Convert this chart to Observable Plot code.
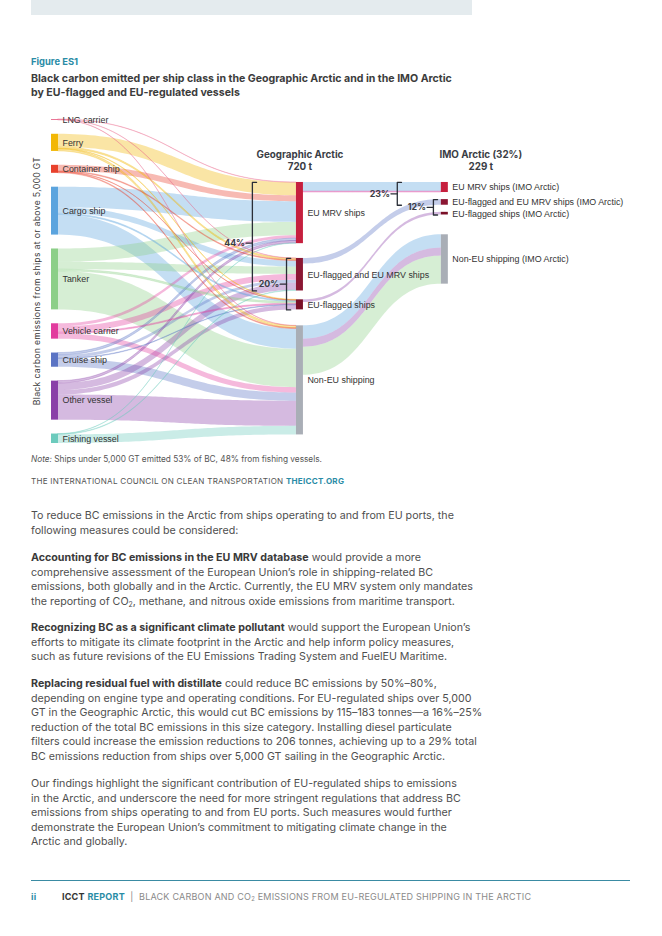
<!DOCTYPE html>
<html><head><meta charset="utf-8">
<script src="https://cdn.jsdelivr.net/npm/d3@7"></script>
<script src="https://cdn.jsdelivr.net/npm/@observablehq/plot@0.6"></script>
<style>
body{margin:0;background:#fff;}
#page{position:relative;width:662px;height:936px;overflow:hidden;font-family:Inter,"Open Sans",sans-serif;color:#4d4d4d;}
.abs{position:absolute;white-space:nowrap;}
#topbar{position:absolute;left:31px;top:0;width:441px;height:15px;background:#e4ebee;}
#fig{left:31px;top:56px;font-size:9.4px;font-weight:700;color:#2a8ca6;}
.title{left:31px;font-size:9.6px;font-weight:700;color:#3c3c3c;}
#chart{position:absolute;left:0;top:108px;}
#ytitle{position:absolute;left:37px;top:281px;transform:translate(-50%,-50%) rotate(-90deg);font-size:8.6px;color:#3a3a3a;white-space:nowrap;letter-spacing:0.35px;}
#note{left:31px;top:454px;font-size:7.4px;color:#555;}
#icct{left:31px;top:476px;font-size:7.3px;color:#555;letter-spacing:0.25px;}
#icct b{color:#2a8ca6;}
.para{position:absolute;left:31px;font-size:9.45px;line-height:14.6px;color:#4f4f4f;white-space:nowrap;}
.para b{color:#3a3a3a;}
sub{font-size:0.65em;vertical-align:-0.25em;line-height:0;}
#rule{position:absolute;left:31px;top:880px;width:599px;height:1px;background:#3a8ba3;}
#footer{left:31px;top:891px;font-size:7.6px;color:#8a8a8a;letter-spacing:0.2px;}
#footer .pg{color:#2a8ca6;font-weight:700;display:inline-block;width:31px;}
#footer .ic{color:#333;font-weight:700;}
#footer .rp{color:#2a8ca6;font-weight:700;}
</style></head><body><div id="page">
<div id="topbar"></div>
<div class="abs" id="fig">Figure ES1</div>
<div class="abs title" id="t1" style="top:72px">Black carbon emitted per ship class in the Geographic Arctic and in the IMO Arctic</div>
<div class="abs title" style="top:86px">by EU-flagged and EU-regulated vessels</div>
<div id="chart"></div>
<div id="ytitle">Black carbon emissions from ships at or above 5,000 GT</div>
<div class="abs" id="note"><i>Note:</i> Ships under 5,000 GT emitted 53% of BC, 48% from fishing vessels.</div>
<div class="abs" id="icct">THE INTERNATIONAL COUNCIL ON CLEAN TRANSPORTATION <b>THEICCT.ORG</b></div>
<div class="para" style="top:509px"><span id="p1">To reduce BC emissions in the Arctic from ships operating to and from EU ports, the</span><br>following measures could be considered:</div>
<div class="para" style="top:551px"><b>Accounting for BC emissions in the EU MRV database</b> would provide a more<br>comprehensive assessment of the European Union’s role in shipping-related BC<br>emissions, both globally and in the Arctic. Currently, the EU MRV system only mandates<br>the reporting of CO<sub>2</sub>, methane, and nitrous oxide emissions from maritime transport.</div>
<div class="para" style="top:621px"><b>Recognizing BC as a significant climate pollutant</b> would support the European Union’s<br>efforts to mitigate its climate footprint in the Arctic and help inform policy measures,<br>such as future revisions of the EU Emissions Trading System and FuelEU Maritime.</div>
<div class="para" style="top:677px"><b>Replacing residual fuel with distillate</b> could reduce BC emissions by 50%–80%,<br>depending on engine type and operating conditions. For EU-regulated ships over 5,000<br>GT in the Geographic Arctic, this would cut BC emissions by 115–183 tonnes—a 16%–25%<br>reduction of the total BC emissions in this size category. Installing diesel particulate<br>filters could increase the emission reductions to 206 tonnes, achieving up to a 29% total<br>BC emissions reduction from ships over 5,000 GT sailing in the Geographic Arctic.</div>
<div class="para" style="top:777px">Our findings highlight the significant contribution of EU-regulated ships to emissions<br>in the Arctic, and underscore the need for more stringent regulations that address BC<br>emissions from ships operating to and from EU ports. Such measures would further<br>demonstrate the European Union’s commitment to mitigating climate change in the<br>Arctic and globally.</div>
<div id="rule"></div>
<div class="abs" id="footer"><span class="pg">ii</span><span class="ic">ICCT</span> <span class="rp">REPORT</span> &nbsp;|&nbsp; BLACK CARBON AND CO<sub>2</sub> EMISSIONS FROM EU-REGULATED SHIPPING IN THE ARCTIC</div>
</div>
<script>
// ---------------- DATA (tonnes of black carbon) ----------------
const shipClasses = ["LNG carrier","Ferry","Container ship","Cargo ship","Tanker","Vehicle carrier","Cruise ship","Other vessel","Fishing vessel"];
const geoGroups = ["EU MRV ships","EU-flagged and EU MRV ships","EU-flagged ships","Non-EU shipping"];
const imoGroups = ["EU MRV ships (IMO Arctic)","EU-flagged and EU MRV ships (IMO Arctic)","EU-flagged ships (IMO Arctic)","Non-EU shipping (IMO Arctic)"];
// Geographic Arctic: ship class -> group
const bcToEuMrv     = [1, 44, 20, 70, 45, 10,  8,  8,  1];
const bcToEuFlagMrv = [1,  5,  3, 20, 25, 20, 10, 24,  2];
const bcToEuFlag    = [0,  2,  1,  4,  6,  4,  2, 15,  0];
const bcToNonEu     = [1,  7,  3, 68,130, 18, 28, 85, 29];
// IMO Arctic: group -> IMO group, by ship class
const imoFrom  = ["EU MRV ships","EU MRV ships","EU-flagged and EU MRV ships","EU-flagged ships","Non-EU shipping","Non-EU shipping","Non-EU shipping"];
const imoClass = ["Cargo ship","Vehicle carrier","Cruise ship","Other vessel","Cargo ship","Other vessel","Tanker"];
const imoBC    = [31, 3, 19, 9, 45, 27, 95];

// ---------------- STYLE / LAYOUT ----------------
const classColors = ["#e8668a","#f2b705","#e8412c","#5ba4de","#8ccf88","#e23c9e","#5b74c4","#8a40a8","#6ccbbd"];
const groupColors = ["#c61f3e","#8b1733","#7a1027","#a9aeb6"];
const X = [0, 0.617, 0.982], NW = 0.0176;
const PAD_L = 47, MID_TOP = 213, MID_PADS = [50, 30, 54], RIGHT_TOP = 213, RIGHT_PADS = [24, 24, 67];
const LABEL_FONT = "Liberation Sans, Arial, sans-serif";
const HEAD_FONT = "Inter, sans-serif";

const flows = [bcToEuMrv, bcToEuFlagMrv, bcToEuFlag, bcToNonEu];
const classTotals = shipClasses.map((c, i) => d3.sum(flows, f => f[i]));
const geoTotals = flows.map(f => d3.sum(f));
const imoTotals = geoGroups.map(g => d3.sum(imoBC.filter((v, k) => imoFrom[k] === g)));
const geoTotal = d3.sum(geoTotals), imoTotal = d3.sum(imoTotals);

function column(names, values, keys, stage, top, pads) {
  let y = top;
  return names.map((name, i) => {
    const n = {name, value: values[i], key: keys[i], x1: X[stage], x2: X[stage] + NW, y0: y, y1: y + values[i], out: y, inn: y};
    y += values[i] + (pads[i] || 0);
    return n;
  });
}
const leftN = column(shipClasses, classTotals, shipClasses, 0, 0, shipClasses.map(() => PAD_L));
const midN = column(geoGroups, geoTotals, geoGroups, 1, MID_TOP, MID_PADS);
const rightN = column(imoGroups, imoTotals, geoGroups, 2, RIGHT_TOP, RIGHT_PADS);
const allNodes = [...leftN, ...midN, ...rightN];
const yMax = d3.sum(classTotals) + PAD_L * (shipClasses.length - 1);

const links = [];
shipClasses.forEach((c, i) => flows.forEach((f, j) => {
  const v = f[i]; if (!v) return;
  const s = leftN[i], t = midN[j];
  links.push({cls: c, value: v, sx: s.x2, tx: t.x1, sy0: s.out, sy1: s.out + v, ty0: t.inn, ty1: t.inn + v});
  s.out += v; t.inn += v;
}));
imoBC.forEach((v, k) => {
  const j = geoGroups.indexOf(imoFrom[k]);
  const s = midN[j], t = rightN[j];
  links.push({cls: imoClass[k], value: v, sx: s.x2, tx: t.x1, sy0: s.out, sy1: s.out + v, ty0: t.inn, ty1: t.inn + v});
  s.out += v; t.inn += v;
});
links.sort((a, b) => b.value - a.value);
const N = 60;
const pts = [];
links.forEach((l, id) => {
  const xm = (l.sx + l.tx) / 2;
  for (let k = 0; k <= N; k++) {
    const t = k / N, u = 1 - t;
    const x = u*u*u*l.sx + 3*u*u*t*xm + 3*u*t*t*xm + t*t*t*l.tx;
    const w = u*u*u + 3*u*u*t;
    pts.push({id, cls: l.cls, value: l.value, x, top: l.sy0*w + l.ty0*(1-w), bot: l.sy1*w + l.ty1*(1-w)});
  }
});
const thinPts = pts.filter(p => p.value <= 8);

const brackets = [
  {a: midN[0], b: midN[1], total: geoTotal, x: X[1] - 0.111, frac: 0.56},
  {a: midN[1], b: midN[2], total: geoTotal, x: X[1] - 0.025, frac: 0.5},
  {a: rightN[0], b: rightN[1], total: imoTotal, x: X[2] - 0.111, frac: 0.5},
  {a: rightN[1], b: rightN[2], total: imoTotal, x: X[2] - 0.02, frac: 0.5}
].map((d, i) => ({...d, id: i, top: d.a.y0, bot: d.b.y1, mid: d.a.y0 + (d.b.y1 - d.a.y0) * d.frac,
  label: Math.round((d.a.value + d.b.value) / d.total * 100) + "%"}));
const TK = 0.0105, MT = 0.016;
const bracketPath = brackets.flatMap(b => [
  {id: b.id, x: b.x + TK, y: b.top}, {id: b.id, x: b.x, y: b.top}, {id: b.id, x: b.x, y: b.bot}, {id: b.id, x: b.x + TK, y: b.bot}]);
const bracketTick = brackets.flatMap(b => [{id: b.id, x: b.x - MT, y: b.mid}, {id: b.id, x: b.x, y: b.mid}]);

const colorDomain = [...shipClasses, ...geoGroups];
const colorRange = [...classColors, ...groupColors];

const chart = Plot.plot({
  width: 662, height: 345,
  marginTop: 11, marginBottom: 10, marginLeft: 51, marginRight: 214,
  x: {domain: [0, 1], axis: null},
  y: {domain: [0, yMax], reverse: true, axis: null},
  color: {domain: colorDomain, range: colorRange},
  style: {overflow: "visible", background: "transparent"},
  marks: [
    Plot.areaY(pts, {x: "x", y1: "top", y2: "bot", z: "id", fill: "cls", fillOpacity: 0.36, curve: "linear"}),
    Plot.areaY(thinPts, {x: "x", y1: "top", y2: "bot", z: "id", fill: "none", stroke: "cls", strokeWidth: 0.55, strokeOpacity: 0.5, curve: "linear"}),
    Plot.rect(allNodes, {x1: "x1", x2: "x2", y1: "y0", y2: "y1", fill: "key"}),
    Plot.text(allNodes, {x: "x2", y: d => (d.y0 + d.y1) / 2, text: "name", textAnchor: "start", dx: 4, fontSize: 8.9, fill: "#333", fontFamily: LABEL_FONT}),
    Plot.line(bracketPath, {x: "x", y: "y", z: "id", stroke: "#2b2f38", strokeWidth: 1.3}),
    Plot.line(bracketTick, {x: "x", y: "y", z: "id", stroke: "#2b2f38", strokeWidth: 1.3}),
    Plot.text(brackets, {x: d => d.x - MT, y: "mid", text: "label", textAnchor: "end", dx: -1, fontSize: 8.8, fontWeight: 700, fill: "#3a3d45", fontFamily: HEAD_FONT}),
    Plot.text([`Geographic Arctic\n${geoTotal} t`], {x: X[1] + NW / 2, frameAnchor: "top", lineAnchor: "top", dy: 30, text: d => d, fontSize: 9.8, fontWeight: 700, lineHeight: 1.2, fill: "#3a3d45", fontFamily: HEAD_FONT}),
    Plot.text([`IMO Arctic (${Math.round(imoTotal / geoTotal * 100)}%)\n${imoTotal} t`], {x: X[2] + NW / 2, dx: 36, frameAnchor: "top", lineAnchor: "top", dy: 30, text: d => d, fontSize: 9.8, fontWeight: 700, lineHeight: 1.2, fill: "#3a3d45", fontFamily: HEAD_FONT})
  ]
});
document.getElementById("chart").appendChild(chart);

// fit single-line texts to the widths measured on the reference
function fit(el, target) {
  const fs = parseFloat(getComputedStyle(el).fontSize);
  const w = el.getBoundingClientRect().width;
  if (w > 0) el.style.fontSize = (fs * target / w) + "px";
}
fit(document.getElementById("t1"), 421);
document.querySelectorAll(".title")[1].style.fontSize = document.getElementById("t1").style.fontSize;
fit(document.getElementById("note"), 291);
fit(document.getElementById("icct"), 315);
fit(document.getElementById("footer"), 510);
const p1 = document.getElementById("p1");
const pw = p1.getBoundingClientRect().width, pfs = parseFloat(getComputedStyle(p1).fontSize);
const newFs = pfs * 423 / pw;
document.querySelectorAll(".para").forEach(p => p.style.fontSize = newFs + "px");
</script>
</body></html>
